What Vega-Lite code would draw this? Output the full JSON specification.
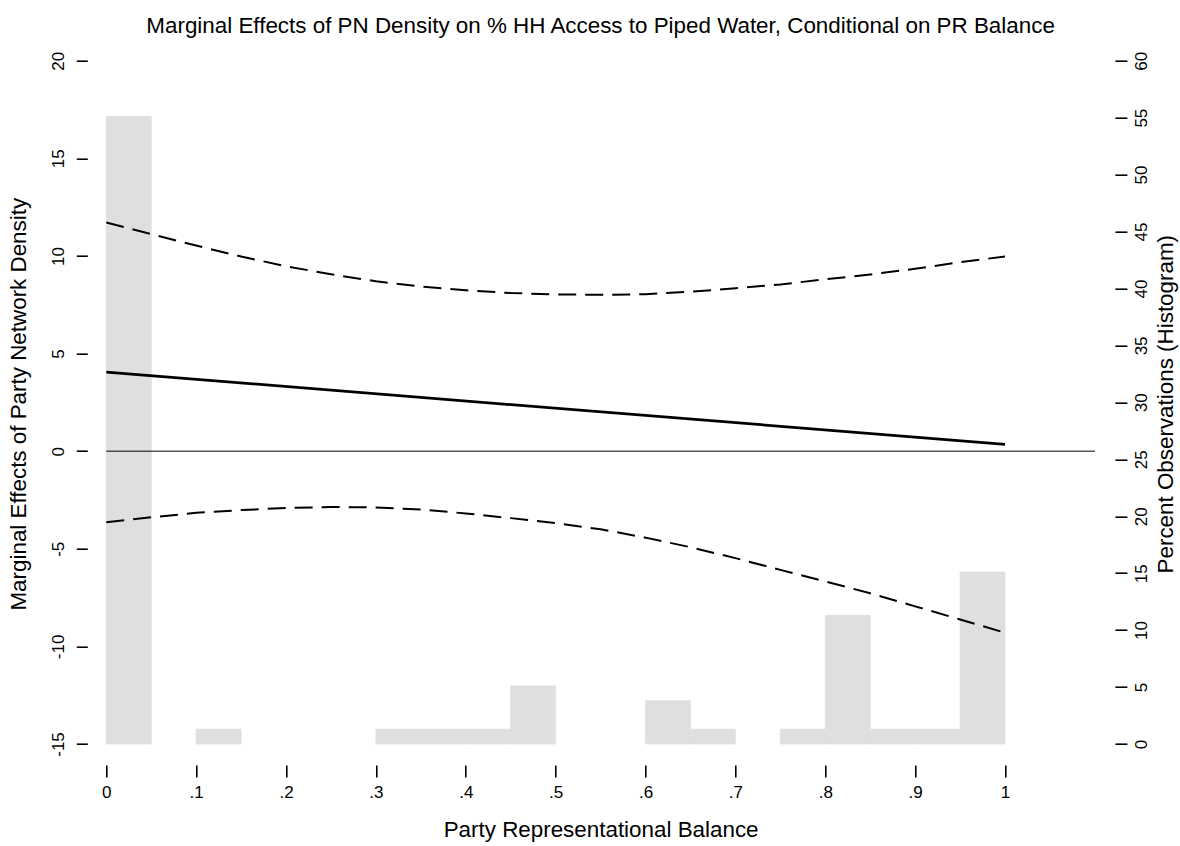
{
  "$schema": "https://vega.github.io/schema/vega-lite/v6.json",
  "autosize": "none",
  "width": 988.6,
  "height": 683.3,
  "padding": {"left": 106.3, "top": 60.7, "right": 85.1, "bottom": 102},
  "background": "white",
  "config": {
    "font": "Liberation Sans",
    "view": {"stroke": null},
    "axis": {
      "grid": false,
      "domain": false,
      "labelFont": "Liberation Sans",
      "labelFontSize": 17,
      "labelColor": "black",
      "tickColor": "black",
      "tickWidth": 1.6,
      "titleColor": "black",
      "titleFont": "Liberation Sans",
      "titleFontSize": 22.4,
      "titleFontWeight": "normal"
    }
  },
  "title": {
    "text": "Marginal Effects of PN Density on % HH Access to Piped Water, Conditional on PR Balance",
    "font": "Liberation Sans",
    "fontSize": 22.4,
    "fontWeight": "normal",
    "color": "black",
    "anchor": "middle",
    "frame": "group",
    "baseline": "alphabetic",
    "offset": -4
  },
  "datasets": {
    "hist": [
      {"pr": 0.0, "pr_end": 0.05, "pct": 55.1},
      {"pr": 0.1, "pr_end": 0.15, "pct": 1.3},
      {"pr": 0.3, "pr_end": 0.35, "pct": 1.3},
      {"pr": 0.35, "pr_end": 0.4, "pct": 1.3},
      {"pr": 0.4, "pr_end": 0.45, "pct": 1.3},
      {"pr": 0.45, "pr_end": 0.5, "pct": 5.1},
      {"pr": 0.6, "pr_end": 0.65, "pct": 3.8},
      {"pr": 0.65, "pr_end": 0.7, "pct": 1.3},
      {"pr": 0.75, "pr_end": 0.8, "pct": 1.3},
      {"pr": 0.8, "pr_end": 0.85, "pct": 11.3},
      {"pr": 0.85, "pr_end": 0.9, "pct": 1.3},
      {"pr": 0.9, "pr_end": 0.95, "pct": 1.3},
      {"pr": 0.95, "pr_end": 1.0, "pct": 15.1}
    ],
    "zero": [{"pr": 0, "pr_end": 1.1, "me": 0}],
    "est": [
      {"pr": 0, "me": 4.05},
      {"pr": 1, "me": 0.35}
    ],
    "ci": [
      {"pr": 0.0, "bound": "upper", "me": 11.71},
      {"pr": 0.05, "bound": "upper", "me": 11.12},
      {"pr": 0.1, "bound": "upper", "me": 10.53},
      {"pr": 0.15, "bound": "upper", "me": 9.97},
      {"pr": 0.2, "bound": "upper", "me": 9.47},
      {"pr": 0.25, "bound": "upper", "me": 9.06},
      {"pr": 0.3, "bound": "upper", "me": 8.70},
      {"pr": 0.35, "bound": "upper", "me": 8.43},
      {"pr": 0.4, "bound": "upper", "me": 8.24},
      {"pr": 0.45, "bound": "upper", "me": 8.10},
      {"pr": 0.5, "bound": "upper", "me": 8.03},
      {"pr": 0.55, "bound": "upper", "me": 8.01},
      {"pr": 0.6, "bound": "upper", "me": 8.04},
      {"pr": 0.65, "bound": "upper", "me": 8.17},
      {"pr": 0.7, "bound": "upper", "me": 8.34},
      {"pr": 0.75, "bound": "upper", "me": 8.54},
      {"pr": 0.8, "bound": "upper", "me": 8.80},
      {"pr": 0.85, "bound": "upper", "me": 9.05},
      {"pr": 0.9, "bound": "upper", "me": 9.34},
      {"pr": 0.95, "bound": "upper", "me": 9.68},
      {"pr": 1.0, "bound": "upper", "me": 9.97},
      {"pr": 0.0, "bound": "lower", "me": -3.64},
      {"pr": 0.05, "bound": "lower", "me": -3.39},
      {"pr": 0.1, "bound": "lower", "me": -3.16},
      {"pr": 0.15, "bound": "lower", "me": -3.02},
      {"pr": 0.2, "bound": "lower", "me": -2.91},
      {"pr": 0.25, "bound": "lower", "me": -2.86},
      {"pr": 0.3, "bound": "lower", "me": -2.88},
      {"pr": 0.35, "bound": "lower", "me": -2.99},
      {"pr": 0.4, "bound": "lower", "me": -3.19},
      {"pr": 0.45, "bound": "lower", "me": -3.43},
      {"pr": 0.5, "bound": "lower", "me": -3.69},
      {"pr": 0.55, "bound": "lower", "me": -4.0},
      {"pr": 0.6, "bound": "lower", "me": -4.43},
      {"pr": 0.65, "bound": "lower", "me": -4.92},
      {"pr": 0.7, "bound": "lower", "me": -5.48},
      {"pr": 0.75, "bound": "lower", "me": -6.08},
      {"pr": 0.8, "bound": "lower", "me": -6.67},
      {"pr": 0.85, "bound": "lower", "me": -7.28},
      {"pr": 0.9, "bound": "lower", "me": -7.95},
      {"pr": 0.95, "bound": "lower", "me": -8.62},
      {"pr": 1.0, "bound": "lower", "me": -9.30}
    ]
  },
  "encoding": {
    "x": {
      "field": "pr", "type": "quantitative",
      "scale": {"domain": [0, 1.1], "nice": false, "zero": false},
      "axis": {
        "title": "Party Representational Balance",
        "values": [0, 0.1, 0.2, 0.3, 0.4, 0.5, 0.6, 0.7, 0.8, 0.9, 1],
        "labelExpr": "datum.value == 0 ? '0' : datum.value >= 1 ? '1' : replace(format(datum.value, '.1f'), '0.', '.')",
        "offset": 21,
        "tickSize": 12,
        "labelPadding": 7,
        "labelAngle": 0,
        "labelAlign": "center",
        "labelBaseline": "top",
        "labelFlush": false,
        "labelOverlap": false,
        "titleX": 494.3,
        "titleY": 71,
        "titleBaseline": "alphabetic",
        "titleAnchor": "middle"
      }
    }
  },
  "layer": [
    {
      "data": {"name": "hist"},
      "mark": {"type": "bar", "fill": "#dfdfdf", "stroke": "#dfdfdf", "strokeWidth": 0.8},
      "encoding": {
        "x2": {"field": "pr_end"},
        "y": {
          "field": "pct", "type": "quantitative",
          "scale": {"domain": [0, 60], "nice": false},
          "axis": {
            "orient": "right",
            "title": "Percent Observations (Histogram)",
            "values": [0, 5, 10, 15, 20, 25, 30, 35, 40, 45, 50, 55, 60],
            "offset": 20,
            "tickSize": 12,
            "labelAngle": -90,
            "labelAlign": "center",
            "labelBaseline": "top",
            "labelPadding": 7,
            "labelFlush": false,
            "labelOverlap": false,
            "titleAngle": -90,
            "titleX": 57.5,
            "titleY": 343,
            "titleAlign": "center",
            "titleBaseline": "alphabetic"
          }
        },
        "y2": {"datum": 0}
      }
    },
    {
      "layer": [
        {
          "data": {"name": "zero"},
          "mark": {"type": "rule", "color": "black", "strokeWidth": 1},
          "encoding": {
            "x2": {"field": "pr_end"},
            "y": {
              "field": "me", "type": "quantitative",
              "scale": {"domain": [-15, 20], "nice": false, "zero": false},
              "axis": {
                "orient": "left",
                "title": "Marginal Effects of Party Network Density",
                "values": [-15, -10, -5, 0, 5, 10, 15, 20],
                "labelExpr": "'' + datum.value",
                "offset": 19,
                "tickSize": 11,
                "labelAngle": -90,
                "labelAlign": "center",
                "labelBaseline": "alphabetic",
                "labelPadding": 12.5,
                "labelFlush": false,
                "labelOverlap": false,
                "titleAngle": -90,
                "titleX": -61.5,
                "titleY": 343,
                "titleAlign": "center",
                "titleBaseline": "alphabetic"
              }
            }
          }
        },
        {
          "data": {"name": "est"},
          "mark": {"type": "line", "color": "black", "strokeWidth": 2.7},
          "encoding": {
            "y": {"field": "me", "type": "quantitative"}
          }
        },
        {
          "data": {"name": "ci"},
          "mark": {"type": "line", "color": "black", "strokeWidth": 2, "strokeDash": [18, 9], "strokeCap": "butt"},
          "encoding": {
            "y": {"field": "me", "type": "quantitative"},
            "detail": {"field": "bound", "type": "nominal"}
          }
        }
      ]
    }
  ],
  "resolve": {"scale": {"y": "independent"}}
}
